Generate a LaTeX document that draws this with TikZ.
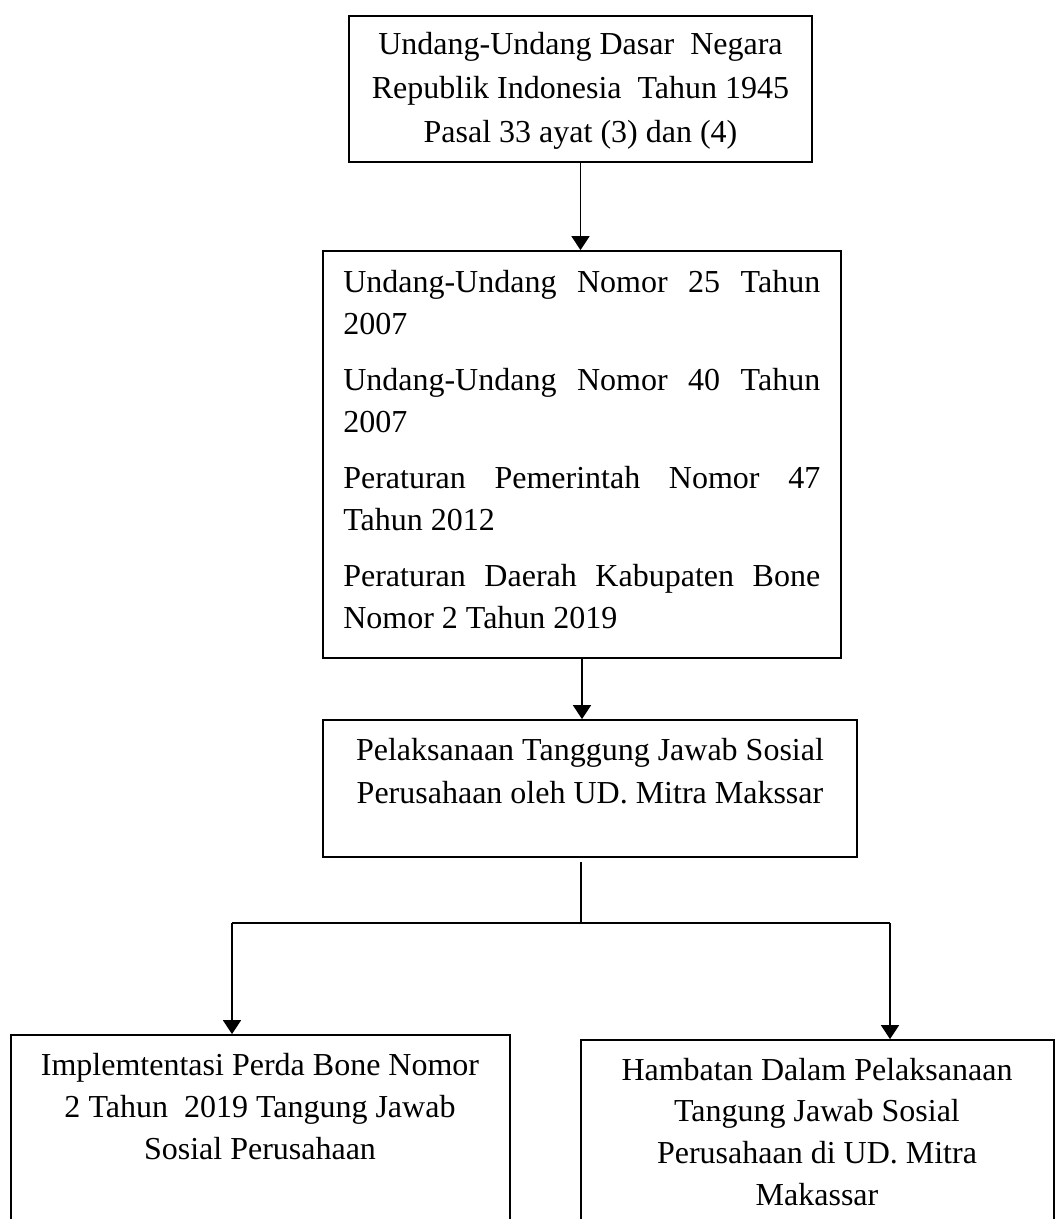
\documentclass[tikz,border=0pt]{standalone}
\usepackage{fontspec}
\setmainfont{Liberation Serif}
\usetikzlibrary{arrows.meta}
\newlength\pxu
\setlength\pxu{0.75pt}
\newcommand\txtblock[3]{\vtop{\hsize=#1\pxu\parindent=0pt\fontsize{24pt}{#2}\selectfont #3\par}}
\begin{document}
\begin{tikzpicture}[x=0.75pt,y=-0.75pt,
  box/.style={draw, line width=1.3pt, inner sep=0pt, rectangle},
  txt/.style={inner sep=0pt, anchor=base},
  conn/.style={line width=1.1pt},
  arr/.style={line width=1.1pt, -{Triangle[length=10.5pt,width=13.5pt]}}]
\path[fill=white, use as bounding box] (0,0) rectangle (1056,1219);
\clip (0,0) rectangle (1056,1219);
% boxes
\node[box, minimum width=463*0.75pt, minimum height=146*0.75pt] (b1) at (580.5,89) {};
\node[box, minimum width=518*0.75pt, minimum height=407*0.75pt] (b2) at (582,454.5) {};
\node[box, minimum width=534*0.75pt, minimum height=137*0.75pt] (b3) at (590,788.5) {};
\node[box, minimum width=499*0.75pt, minimum height=260*0.75pt] (b4) at (260.5,1165) {};
\node[box, minimum width=473*0.75pt, minimum height=260*0.75pt] (b5) at (817.5,1170) {};
% texts
\node[txt] (t1) at (580.5,55) {\txtblock{470}{33pt}{\centering Undang-Undang Dasar\ \ Negara\par Republik Indonesia\ \ Tahun 1945\par Pasal 33 ayat (3) dan (4)}};
\node[txt, anchor=base west] (t2) at (343,292) {\txtblock{477}{31.5pt}{\tolerance=10000 \hbadness=10000 \hyphenpenalty=10000 \exhyphenpenalty=10000 \parskip=10.5pt Undang-Undang Nomor 25 Tahun\linebreak 2007\par Undang-Undang Nomor 40 Tahun\linebreak 2007\par Peraturan Pemerintah Nomor 47\linebreak Tahun 2012\par Peraturan Daerah Kabupaten Bone\linebreak Nomor 2 Tahun 2019}};
\node[txt] (t3) at (590,760) {\txtblock{520}{32.25pt}{\centering Pelaksanaan Tanggung Jawab Sosial\par Perusahaan oleh UD. Mitra Makssar}};
\node[txt] (t4) at (260,1075) {\txtblock{490}{31.5pt}{\centering Implemtentasi Perda Bone Nomor\par 2 Tahun\ \ 2019 Tangung Jawab\par Sosial Perusahaan}};
\node[txt] (t5) at (817,1080) {\txtblock{465}{31.25pt}{\centering Hambatan Dalam Pelaksanaan\par Tangung Jawab Sosial\par Perusahaan di UD. Mitra\par Makassar}};
% connectors
\draw[arr] (b1.south) -- (b1.south |- b2.north);
\draw[arr] (b2.south) -- (b2.south |- b3.north);
\coordinate (jt) at (581,862);
\coordinate (j) at (581,923);
\coordinate (jl) at (232,923);
\coordinate (jr) at (890,923);
\draw[conn] (jt) -- (j);
\draw[conn] (jl) -- (jr);
\draw[arr] (jl) -- (jl |- b4.north);
\draw[arr] (jr) -- (jr |- b5.north);
\end{tikzpicture}
\end{document}
